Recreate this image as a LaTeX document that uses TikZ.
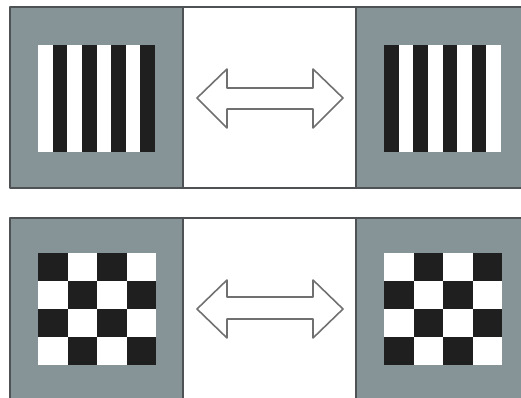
\documentclass[tikz,border=0pt]{standalone}
\usepackage{tikz}
\definecolor{panelgray}{RGB}{134,148,152}
\definecolor{edgegray}{RGB}{78,82,84}
\definecolor{arrowgray}{RGB}{112,112,112}
\begin{document}
\begin{tikzpicture}[line cap=round, line join=round, x={(0.02cm,0cm)}, y={(0cm,-0.02cm)}]

	% Kiểu vẽ dùng chung
	\tikzset{
		panel/.style={fill=panelgray, draw=none},
		frame/.style={draw=edgegray, line width=1.4pt},
		bar/.style={fill=black!88, draw=none},
		twoarrow/.style={draw=arrowgray, fill=white, line width=0.9pt}
	}

	% Khung ảnh
	\useasboundingbox (0,0) rectangle (521,398);
	\fill[white] (0,0) rectangle (521,398);

	% ----------------------------------------------------
	% HÀNG TRÊN: vạch sọc
	% ----------------------------------------------------
	\fill[panel] (10,7) rectangle (183,188);
	\fill[panel] (356,7) rectangle (521,188);
	\draw[frame] (521,7) -- (10,7) -- (10,188) -- (521,188);
	\draw[frame] (183,7) -- (183,188);
	\draw[frame] (356,7) -- (356,188);

	% Sọc bên trái (bắt đầu bằng trắng)
	\fill[white] (38,45) rectangle (155,152);
	\foreach \i in {1,3,5,7}
		\fill[bar] (38+\i*14.625,45) rectangle (38+\i*14.625+14.625,152);

	% Sọc bên phải (bắt đầu bằng đen)
	\fill[white] (384,45) rectangle (501,152);
	\foreach \i in {0,2,4,6}
		\fill[bar] (384+\i*14.625,45) rectangle (384+\i*14.625+14.625,152);

	% Mũi tên hai chiều
	\draw[twoarrow] (197,98) -- (227,69) -- (227,88) -- (313,88) -- (313,69) -- (343,98)
		-- (313,128) -- (313,109) -- (227,109) -- (227,128) -- cycle;

	% ----------------------------------------------------
	% HÀNG DƯỚI: bàn cờ
	% ----------------------------------------------------
	\fill[panel] (10,218) rectangle (183,398);
	\fill[panel] (356,218) rectangle (521,398);
	\draw[frame] (521,218) -- (10,218) -- (10,398);
	\draw[frame] (183,218) -- (183,398);
	\draw[frame] (356,218) -- (356,398);

	% Bàn cờ bên trái (ô góc trên trái màu đen)
	\fill[white] (38,253) rectangle (156,365);
	\foreach \r in {0,...,3}
		\foreach \c in {0,...,3}{
			\pgfmathparse{int(mod(\r+\c,2))}
			\ifnum\pgfmathresult=0
				\fill[bar] (38+\c*29.5,253+\r*28) rectangle (38+\c*29.5+29.5,253+\r*28+28);
			\fi
		}

	% Bàn cờ bên phải (ô góc trên trái màu trắng)
	\fill[white] (384,253) rectangle (502,365);
	\foreach \r in {0,...,3}
		\foreach \c in {0,...,3}{
			\pgfmathparse{int(mod(\r+\c,2))}
			\ifnum\pgfmathresult=1
				\fill[bar] (384+\c*29.5,253+\r*28) rectangle (384+\c*29.5+29.5,253+\r*28+28);
			\fi
		}

	% Mũi tên hai chiều
	\draw[twoarrow] (197,309) -- (227,280) -- (227,297) -- (313,297) -- (313,280) -- (343,309)
		-- (313,338) -- (313,319) -- (227,319) -- (227,338) -- cycle;

\end{tikzpicture}
\end{document}
